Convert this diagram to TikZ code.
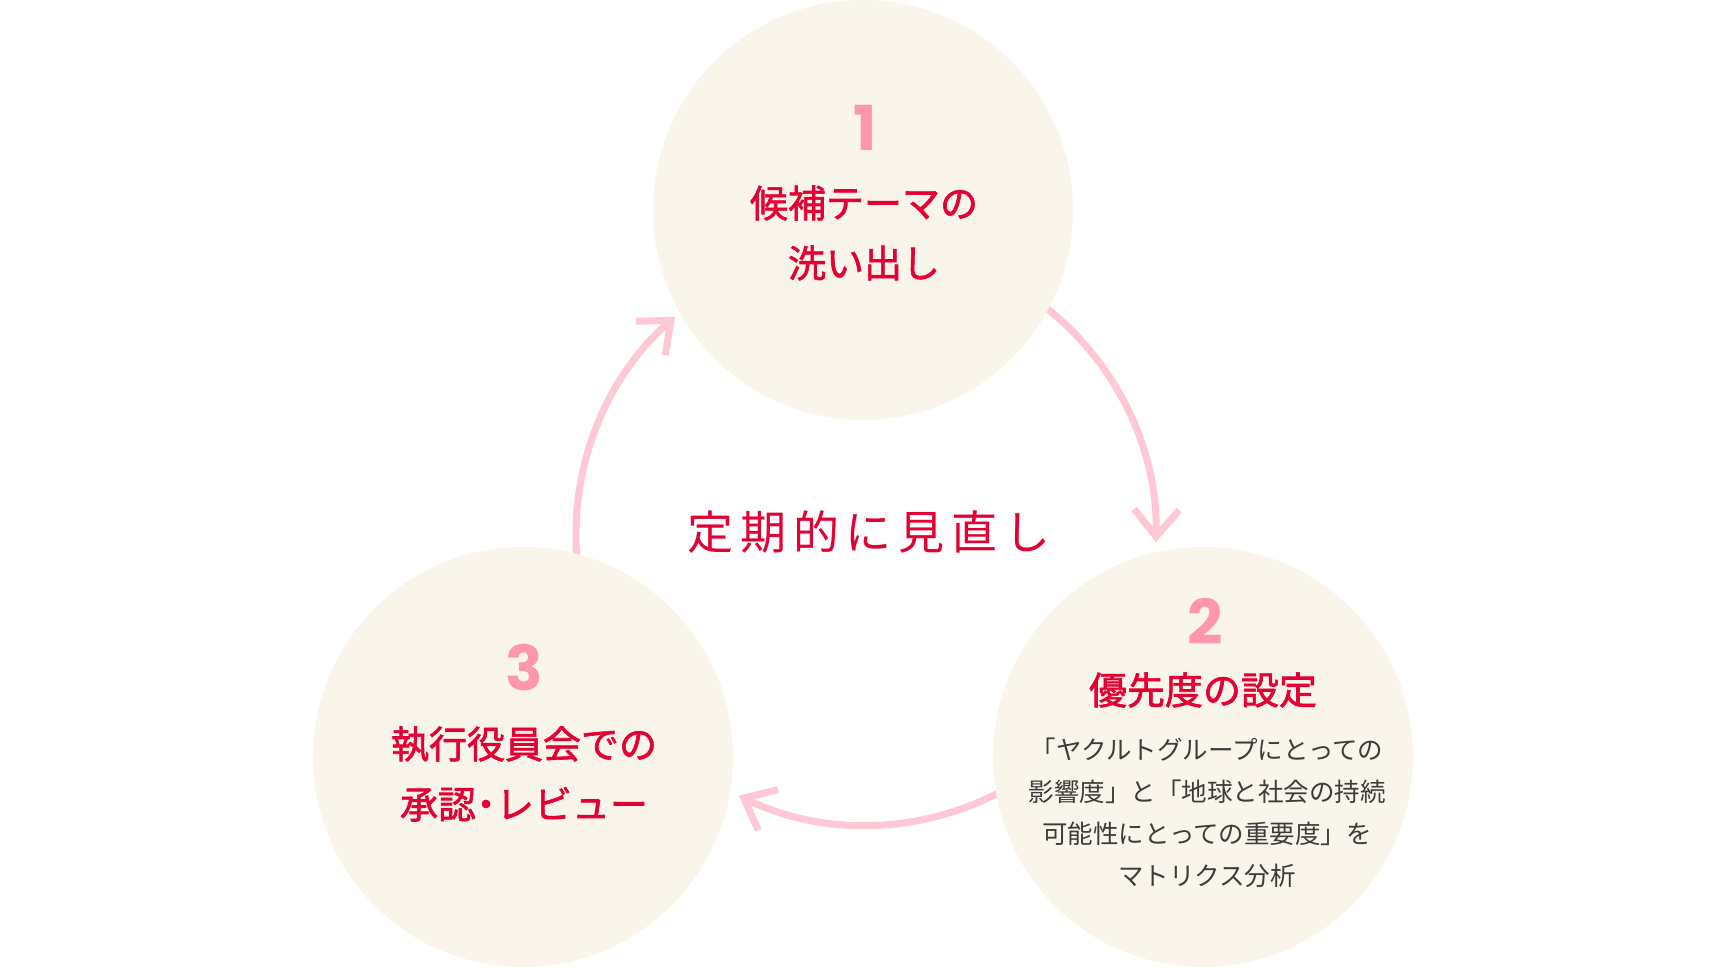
\documentclass[tikz,border=0pt]{standalone}
\usepackage{fontspec}
\newfontfamily\jpfont{Noto Sans CJK JP}
\newfontfamily\jptitle{Noto Sans CJK JP}[FakeBold=1.6]
\newfontfamily\jpwide{Noto Sans CJK JP}[LetterSpace=15]
\newfontfamily\numfont{Poppins}
\usetikzlibrary{arrows.meta,calc}
\definecolor{discfill}{RGB}{250,245,235}
\definecolor{numpink}{RGB}{255,150,172}
\definecolor{titlered}{RGB}{228,0,50}
\definecolor{looppink}{RGB}{255,200,214}
\definecolor{notegray}{RGB}{60,60,60}
\pgfdeclarelayer{back}
\pgfsetlayers{back,main}
\tikzset{
  stepdisc/.style={circle, fill=discfill, minimum size=420pt, inner sep=0pt},
  stepnum/.style={anchor=base, text=numpink, font=\numfont\bfseries\fontsize{62}{62}\selectfont},
  steptitle/.style={text=titlered, align=center, font=\jptitle\fontsize{38}{60}\selectfont},
  stepnote/.style={text=notegray, align=center, font=\jpfont\fontsize{25.5}{42}\selectfont},
  loopline/.style={draw=looppink, line width=7pt,
    -{Straight Barb[length=27pt,width=45pt,line cap=butt,line join=miter]}},
}

\begin{document}
\begin{tikzpicture}[x=1pt,y=1pt]
		%%%%% START %%%%%

		% the three steps
		\node[stepdisc] (one) at (863,756) {};
		\node[stepdisc] (two) at (1203,209) {};
		\node[stepdisc] (three) at (523,209) {};

		\node[stepnum] (num1) at (865,815) {1};
		\node[steptitle] (title1) at (864,733) {候補テーマの\\洗い出し};

		\node[stepnum] (num2) at (1205,322) {2};
		\node[steptitle] (title2) at (1203,276) {優先度の設定};
		\node[stepnote] (note2) at (1207,153) {「ヤクルトグループにとっての\\影響度」と「地球と社会の持続\\可能性にとっての重要度」を\\マトリクス分析};

		\node[stepnum] (num3) at (524,276) {3};
		\node[steptitle] (title3) at (524,192) {執行役員会での\\承認\kern-9pt・\kern-9ptレビュー};

		% the loop
		\coordinate (hub) at (866,431);
		\node[text=titlered, font=\jpwide\fontsize{46}{46}\selectfont] (review) at (869,434) {定期的に見直し};

		\begin{pgfonlayer}{back}
		\fill[white] (0,0) rectangle (1728,966);
		\draw[loopline] ($(hub)+(55:290)$) arc[start angle=55, end angle=-1.4, radius=290];
		\draw[loopline] ($(hub)+(-58:290)$) arc[start angle=-58, end angle=-116, radius=290];
		\draw[loopline] ($(hub)+(188:290)$) arc[start angle=188, end angle=131.2, radius=290];
		\end{pgfonlayer}

		%%%%% END %%%%%
\end{tikzpicture}
\end{document}
